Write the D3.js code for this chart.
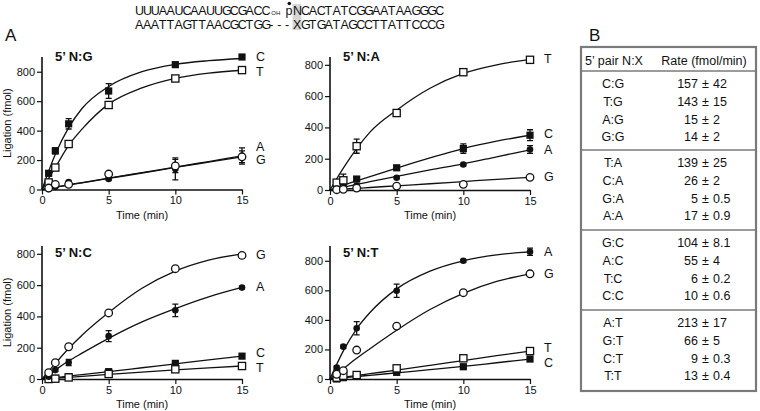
<!DOCTYPE html>
<html><head><meta charset="utf-8">
<script src="https://cdn.jsdelivr.net/npm/d3@7"></script>
<style>
body{margin:0;background:#fff}
svg{display:block}
text{font-family:"Liberation Sans",Arial,sans-serif;fill:#111}
</style>
</head><body>
<svg id="c" width="760" height="411"></svg>
<script>
// ---------- DATA ----------
const times = [0.5, 1, 2, 5, 10, 15];
const fitTimes = [0, 1, 2, 3, 5, 7.5, 10, 12.5, 15];
const xTicks = [0, 5, 10, 15];
const yTicks = [0, 200, 400, 600, 800];
const panelTitles = ["5\u2019 N:G", "5\u2019 N:A", "5\u2019 N:C", "5\u2019 N:T"];
const yMaxes = [900, 850, 850, 900];
const seriesNames = ["C", "T", "A", "G"];

// 5' N:G
const ngC = [110, 263, 446, 669, 848, 900], ngCErr = [15, 20, 35, 50, 8, 8];
const ngT = [48, 149, 309, 574, 754, 811], ngTErr = [5, 10, 10, 20, 10, 10];
const ngA = [4, 18, 50, 72, 140, 228], ngAErr = [2, 4, 8, 8, 75, 55];
const ngG = [10, 35, 35, 105, 160, 222], ngGErr = [3, 5, 5, 15, 45, 40];
const ngCFit = [0, 240, 420, 550, 700, 800, 850, 875, 890];
const ngTFit = [0, 150, 300, 410, 580, 690, 755, 790, 810];
const ngAFit = [0, 16, 32, 47, 78, 115, 152, 190, 228];
const ngGFit = [0, 15, 30, 45, 75, 112, 150, 186, 222];

// 5' N:A
const naC = [21, 32, 70, 142, 265, 350], naCErr = [3, 5, 8, 10, 30, 35];
const naT = [47, 62, 280, 492, 753, 832], naTErr = [5, 40, 45, 10, 15, 10];
const naA = [4, 10, 28, 78, 163, 259], naAErr = [2, 2, 3, 5, 8, 25];
const naG = [2, 4, 12, 25, 36, 81], naGErr = [0, 0, 0, 0, 0, 0];
const naCFit = [0, 30, 58, 85, 140, 205, 265, 312, 350];
const naTFit = [0, 140, 265, 370, 510, 650, 745, 800, 835];
const naAFit = [0, 18, 36, 53, 87, 128, 167, 212, 257];
const naGFit = [0, 5, 11, 16, 27, 40, 54, 68, 81];

// 5' N:C
const ncC = [0, 4, 15, 47, 100, 146], ncCErr = [0, 0, 0, 5, 8, 5];
const ncT = [0, 2, 10, 32, 62, 83], ncTErr = [0, 0, 0, 0, 0, 0];
const ncA = [15, 57, 106, 274, 439, 584], ncAErr = [3, 10, 20, 35, 40, 8];
const ncG = [40, 104, 206, 422, 705, 790], ncGErr = [0, 0, 0, 0, 0, 0];
const ncCFit = [0, 9, 19, 28, 47, 72, 97, 122, 146];
const ncTFit = [0, 5, 11, 17, 29, 44, 58, 71, 83];
const ncAFit = [0, 58, 115, 165, 260, 365, 450, 525, 585];
const ncGFit = [0, 100, 195, 280, 425, 580, 690, 760, 800];

// 5' N:T
const ntC = [0, 9, 27, 45, 83, 135], ntCErr = [0, 0, 0, 0, 0, 0];
const ntT = [9, 22, 27, 72, 140, 189], ntTErr = [0, 0, 0, 0, 0, 0];
const ntA = [77, 219, 343, 597, 800, 861], ntAErr = [10, 10, 45, 45, 10, 25];
const ntG = [32, 56, 196, 358, 584, 712], ntGErr = [0, 0, 0, 0, 0, 0];
const ntCFit = [0, 8, 17, 25, 42, 63, 85, 110, 135];
const ntTFit = [0, 12, 24, 36, 60, 92, 125, 158, 189];
const ntAFit = [0, 190, 340, 450, 610, 730, 800, 840, 860];
const ntGFit = [0, 70, 140, 205, 330, 470, 580, 660, 712];

// Table B
const pairs = ["C:G","T:G","A:G","G:G","T:A","C:A","G:A","A:A","G:C","A:C","T:C","C:C","A:T","G:T","C:T","T:T"];
const rates = ["157","143","15","14","139","26","5","17","104","55","6","10","213","66","9","13"];
const rateErrs = ["42","15","2","2","25","2","0.5","0.9","8.1","4","0.2","0.6","17","5","0.3","0.4"];

// Sequences
const seqTop1 = "UUUAAUCAAUUGCGACC";
const seqTop2 = "NCACTATCGGAATAAGGGC";
const seqBottom = "AAATTAGTTAACGCTGG---XGTGATAGCCTTATTCCCG";

// ---------- BUILD ----------
const panelData = [
  {C:[ngC,ngCErr,ngCFit],T:[ngT,ngTErr,ngTFit],A:[ngA,ngAErr,ngAFit],G:[ngG,ngGErr,ngGFit]},
  {C:[naC,naCErr,naCFit],T:[naT,naTErr,naTFit],A:[naA,naAErr,naAFit],G:[naG,naGErr,naGFit]},
  {C:[ncC,ncCErr,ncCFit],T:[ncT,ncTErr,ncTFit],A:[ncA,ncAErr,ncAFit],G:[ncG,ncGErr,ncGFit]},
  {C:[ntC,ntCErr,ntCFit],T:[ntT,ntTErr,ntTFit],A:[ntA,ntAErr,ntAFit],G:[ntG,ntGErr,ntGFit]}
];
const layout = [
  {left:42, bottom:189.5, top:57, labels:{C:57,T:72,A:147,G:160}, title:61},
  {left:330, bottom:190, top:57, labels:{T:59,C:134,A:150,G:177}, title:61},
  {left:42, bottom:379, top:246, labels:{G:255,A:287,C:353,T:368}, title:257},
  {left:330, bottom:379, top:246, labels:{A:252,G:274,T:348,C:363}, title:257}
];
const markerType = {C:"sqF", T:"sqO", A:"ciF", G:"ciO"};

const svg = d3.select("#c");

layout.forEach((L, pi) => {
  const x = d3.scaleLinear().domain([0, 15]).range([L.left, L.left + 200]);
  const y = d3.scaleLinear().domain([0, yMaxes[pi]]).range([L.bottom, L.top]);
  const g = svg.append("g");

  const ya = g.append("g").attr("transform", `translate(${L.left},0)`)
    .call(d3.axisLeft(y).tickValues(yTicks).tickSize(5).tickSizeOuter(0).tickPadding(2).tickFormat(d3.format("d")));
  const xa = g.append("g").attr("transform", `translate(0,${L.bottom})`)
    .call(d3.axisBottom(x).tickValues(xTicks).tickSize(5).tickSizeOuter(0).tickPadding(2));
  [ya, xa].forEach(a => {
    a.select(".domain").attr("stroke", "#111").attr("stroke-width", 1.6);
    a.selectAll(".tick line").attr("stroke", "#111").attr("stroke-width", 1.2);
    a.selectAll(".tick text").attr("font-size", 11).attr("font-family", "Liberation Sans, Arial, sans-serif").attr("fill", "#111");
  });
  ya.select(".domain").attr("d", `M0,${L.bottom}V${L.top}`);

  g.append("text").attr("x", L.left + 200/2).attr("y", L.bottom + 29)
    .attr("text-anchor", "middle").attr("font-size", 11).text("Time (min)");
  if (pi % 2 === 0) {
    g.append("text").attr("transform", `translate(11,${(L.top + L.bottom)/2}) rotate(-90)`)
      .attr("text-anchor", "middle").attr("font-size", 11).text("Ligation (fmol)");
  }
  g.append("text").attr("x", L.left + 13).attr("y", L.title)
    .attr("font-size", 13).attr("font-weight", "bold").text(panelTitles[pi]);

  const line = d3.line().x((d, i) => x(fitTimes[i])).y(d => y(d)).curve(d3.curveMonotoneX);
  const D = panelData[pi];
  seriesNames.forEach(s => {
    g.append("path").attr("d", line(D[s][2])).attr("fill", "none")
      .attr("stroke", "#111").attr("stroke-width", 1.3);
  });
  seriesNames.forEach(s => {
    const [vals, errs] = D[s];
    vals.forEach((v, i) => {
      const e = errs[i];
      if (e > 0) {
        const cx = x(times[i]);
        g.append("path").attr("d",
          `M${cx},${y(Math.max(0, v - e))}V${y(v + e)}M${cx-3},${y(v + e)}H${cx+3}M${cx-3},${y(Math.max(0, v - e))}H${cx+3}`)
          .attr("stroke", "#111").attr("stroke-width", 1.3).attr("fill", "none");
      }
    });
  });
  seriesNames.forEach(s => {
    const vals = D[s][0];
    const t = markerType[s];
    vals.forEach((v, i) => {
      const cx = x(times[i]), cy = y(v);
      if (t === "sqF") g.append("rect").attr("x", cx-3.6).attr("y", cy-3.6).attr("width", 7.2).attr("height", 7.2).attr("fill", "#111");
      else if (t === "sqO") g.append("rect").attr("x", cx-3.6).attr("y", cy-3.6).attr("width", 7.2).attr("height", 7.2).attr("fill", "#fff").attr("stroke", "#111").attr("stroke-width", 1.3);
      else if (t === "ciF") g.append("circle").attr("cx", cx).attr("cy", cy).attr("r", 3.3).attr("fill", "#111");
      else g.append("circle").attr("cx", cx).attr("cy", cy).attr("r", 3.8).attr("fill", "#fff").attr("stroke", "#111").attr("stroke-width", 1.3);
    });
    g.append("text").attr("x", L.left + 214).attr("y", L.labels[s]).attr("dy", "0.35em")
      .attr("font-size", 12.5).text(s);
  });
});

// Panel letters
svg.append("text").attr("x", 5).attr("y", 41).attr("font-size", 17).text("A");
svg.append("text").attr("x", 589).attr("y", 41).attr("font-size", 17).text("B");

// Sequence header (monospaced grid via per-character x positions)
const cw = 7.9, sx = 135;
const mono = "Liberation Mono, monospace";
const xs = (start, n) => d3.range(n).map(i => (start + i * cw).toFixed(2)).join(" ");
const seqG = svg.append("g");
seqG.append("rect").attr("x", sx + 20*cw - 0.5).attr("y", 4).attr("width", cw + 1).attr("height", 26).attr("fill", "#d6d6d6");
const topRow = seqG.append("text").attr("y", 15).attr("font-size", 12.5).attr("font-family", mono);
topRow.append("tspan").attr("x", xs(sx, seqTop1.length)).text(seqTop1);
topRow.append("tspan").attr("x", sx + seqTop1.length*cw + 2).attr("font-size", 6).text("OH");
topRow.append("tspan").attr("x", sx + 19*cw + 0.5).text("p");
topRow.append("tspan").attr("x", xs(sx + 20*cw, seqTop2.length)).text(seqTop2);
seqG.append("circle").attr("cx", sx + 19*cw + 4.2).attr("cy", 3.5).attr("r", 1.8).attr("fill", "#111");
seqG.append("text").attr("y", 28.5).attr("font-size", 12.5).attr("font-family", mono)
  .attr("x", xs(sx, seqBottom.length)).text(seqBottom);

// Table B
const tb = svg.append("g");
const tL = 581, tR = 756, tT = 47, tB = 391;
tb.append("rect").attr("x", tL).attr("y", tT).attr("width", tR - tL).attr("height", tB - tT)
  .attr("fill", "none").attr("stroke", "#7a7a7a").attr("stroke-width", 2.2);
tb.append("text").attr("x", 614).attr("y", 61).attr("dy", "0.35em").attr("text-anchor", "middle").attr("font-size", 12.5).text("5\u2019 pair N:X");
tb.append("text").attr("x", 704).attr("y", 61).attr("dy", "0.35em").attr("text-anchor", "middle").attr("font-size", 12.5).text("Rate (fmol/min)");
const seps = [71, 150, 230, 310];
seps.forEach(sy => tb.append("line").attr("x1", tL).attr("x2", tR).attr("y1", sy).attr("y2", sy)
  .attr("stroke", "#7a7a7a").attr("stroke-width", 1.5));
pairs.forEach((p, i) => {
  const grp = Math.floor(i / 4), k = i % 4;
  const yy = seps[grp] + 13 + k * 17.7;
  tb.append("text").attr("x", 613).attr("y", yy).attr("dy", "0.35em").attr("text-anchor", "middle").attr("font-size", 12.5).text(p);
  tb.append("text").attr("x", 698).attr("y", yy).attr("dy", "0.35em").attr("text-anchor", "end").attr("font-size", 12.5).text(rates[i]);
  tb.append("text").attr("x", 705.5).attr("y", yy).attr("dy", "0.35em").attr("text-anchor", "middle").attr("font-size", 12.5).text("\u00b1");
  tb.append("text").attr("x", 713).attr("y", yy).attr("dy", "0.35em").attr("text-anchor", "start").attr("font-size", 12.5).text(rateErrs[i]);
});
</script>
</body></html>
